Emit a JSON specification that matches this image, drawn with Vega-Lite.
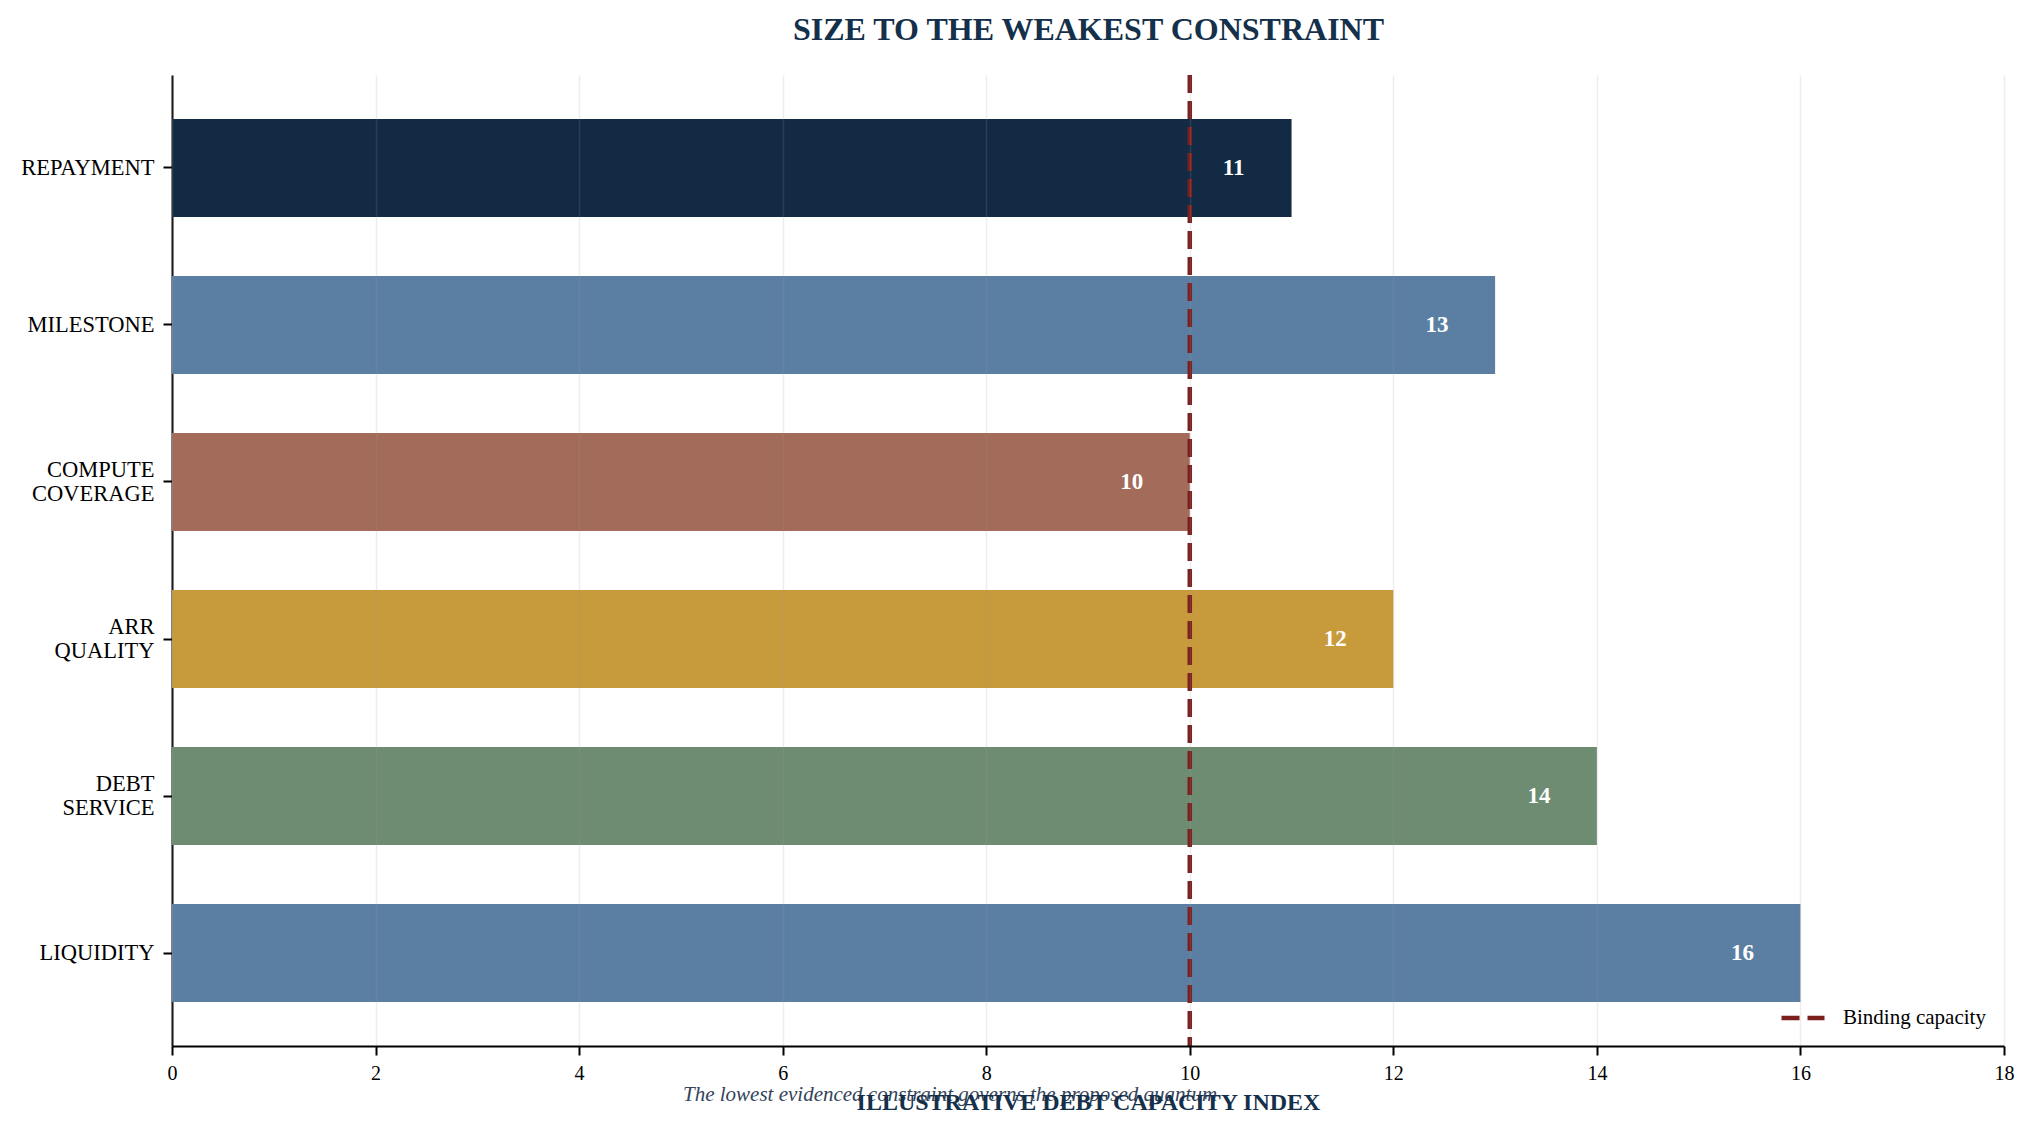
{
  "$schema": "https://vega.github.io/schema/vega-lite/v6.json",
  "width": 1832,
  "height": 971,
  "autosize": {"type": "none"},
  "padding": {"left": 172, "top": 75, "right": 30, "bottom": 88},
  "background": "white",
  "title": {
    "text": "The lowest evidenced constraint governs the proposed quantum",
    "orient": "bottom",
    "frame": "group",
    "anchor": "start",
    "dx": 511,
    "offset": -13,
    "baseline": "alphabetic",
    "font": "Liberation Serif",
    "fontSize": 21,
    "fontStyle": "italic",
    "fontWeight": "normal",
    "color": "#34445a"
  },
  "config": {"view": {"stroke": null}, "font": "Liberation Serif"},
  "data": {
    "values": [
      {"constraint": "REPAYMENT", "index": 11},
      {"constraint": "MILESTONE", "index": 13},
      {"constraint": "COMPUTE COVERAGE", "index": 10},
      {"constraint": "ARR QUALITY", "index": 12},
      {"constraint": "DEBT SERVICE", "index": 14},
      {"constraint": "LIQUIDITY", "index": 16}
    ]
  },
  "resolve": {"axis": {"x": "independent"}},
  "layer": [
    {
      "mark": {"type": "bar"},
      "encoding": {
        "y": {
          "field": "constraint",
          "type": "nominal",
          "sort": null,
          "scale": {"paddingInner": 0.376, "paddingOuter": 0.28},
          "axis": {
            "title": null,
            "labelExpr": "split(datum.label, ' ')",
            "labelFont": "Liberation Serif",
            "labelFontSize": 22.5,
            "labelLineHeight": 24,
            "labelColor": "#000",
            "labelPadding": 9,
            "labelLimit": 0,
            "labelOffset": {"condition": {"test": "indexof(datum.label, ' ') > 0", "value": -12}, "value": 0},
            "tickSize": 9,
            "tickWidth": 2,
            "tickColor": "#000",
            "domainColor": "#000",
            "domainWidth": 2,
            "grid": false
          }
        },
        "x": {
          "field": "index",
          "type": "quantitative",
          "scale": {"domain": [0, 18], "nice": false},
          "axis": {
            "orient": "bottom",
            "values": [0, 2, 4, 6, 8, 10, 12, 14, 16, 18],
            "title": "ILLUSTRATIVE DEBT CAPACITY INDEX",
            "titleFont": "Liberation Serif",
            "titleFontSize": 24,
            "titleFontWeight": "bold",
            "titleColor": "#14304a",
            "titlePadding": 7,
            "labelFont": "Liberation Serif",
            "labelFontSize": 20,
            "labelColor": "#000",
            "labelPadding": 8,
            "labelFlush": false,
            "tickSize": 9,
            "tickWidth": 2,
            "tickColor": "#000",
            "domainColor": "#000",
            "domainWidth": 2,
            "grid": true,
            "gridColor": "#999999",
            "gridOpacity": 0.18,
            "gridWidth": 1.5,
            "zindex": 1
          }
        },
        "color": {
          "field": "constraint",
          "type": "nominal",
          "scale": {
            "domain": ["REPAYMENT", "MILESTONE", "COMPUTE COVERAGE", "ARR QUALITY", "DEBT SERVICE", "LIQUIDITY"],
            "range": ["#122a43", "#5b7fa2", "#a36b5a", "#c79a3b", "#6e8c72", "#5b7fa2"]
          },
          "legend": null
        }
      }
    },
    {
      "mark": {
        "type": "text",
        "align": "center",
        "baseline": "middle",
        "dx": -58,
        "font": "Liberation Serif",
        "fontSize": 23,
        "fontWeight": "bold",
        "color": "white"
      },
      "encoding": {
        "y": {"field": "constraint", "type": "nominal", "sort": null},
        "x": {"field": "index", "type": "quantitative", "axis": null},
        "text": {"field": "index", "type": "quantitative"}
      }
    },
    {
      "data": {"values": [{"binding": 10, "series": "Binding capacity"}]},
      "mark": {"type": "rule", "color": "#7b1e1e", "strokeWidth": 4.5},
      "encoding": {
        "x": {
          "field": "binding",
          "type": "quantitative",
          "axis": {
            "orient": "top",
            "title": "SIZE TO THE WEAKEST CONSTRAINT",
            "titleFont": "Liberation Serif",
            "titleFontSize": 32,
            "titleFontWeight": "bold",
            "titleColor": "#14304a",
            "titlePadding": 29,
            "labels": false,
            "ticks": false,
            "domain": false,
            "grid": false
          }
        },
        "strokeDash": {
          "field": "series",
          "type": "nominal",
          "scale": {"domain": ["Binding capacity"], "range": [[18, 8]]},
          "legend": {
            "title": null,
            "orient": "bottom-right",
            "offset": 18,
            "symbolType": "stroke",
            "symbolSize": 1849,
            "symbolStrokeWidth": 4.5,
            "symbolStrokeColor": "#7b1e1e",
            "labelFont": "Liberation Serif",
            "labelFontSize": 21,
            "labelColor": "#000",
            "labelOffset": 16
          }
        }
      }
    }
  ]
}
